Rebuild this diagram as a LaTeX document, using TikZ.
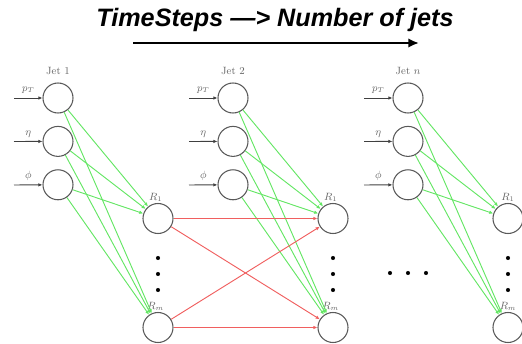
\documentclass[tikz,border=0pt]{standalone}
\usepackage{fontspec}
\usepackage{tikz}
\usetikzlibrary{arrows.meta, positioning}
\newfontfamily\headfont{Liberation Sans}
\definecolor{linkgreen}{RGB}{100,230,100}
\definecolor{linkred}{RGB}{240,95,95}

\begin{document}
\begin{tikzpicture}[x=0.03cm, y=-0.03cm, node distance=0.37cm,
        neuron/.style={circle, draw=black!65, line width=0.9pt, minimum size=0.9cm, inner sep=0pt},
        jetlabel/.style={font=\small, text=black!60},
        feed/.style={-{Latex[length=3.5pt,width=3pt]}, line width=0.8pt, draw=black!75},
        fwd/.style={-{Latex[length=3.5pt,width=3pt]}, line width=0.8pt, draw=linkgreen},
        rec/.style={-{Latex[length=3.5pt,width=3pt]}, line width=0.8pt, draw=linkred},
        dotnode/.style={circle, fill=black, inner sep=0pt, minimum size=3.5pt}]
    \useasboundingbox (0,0) rectangle (522,344);

    % heading
    \node (title) at (275,20) {\headfont\bfseries\itshape\fontsize{21.5}{26}\selectfont TimeSteps —> Number of jets};
    \coordinate (tstart) at (133,43);
    \coordinate (tend) at (419,43);
    \draw[line width=1.8pt, -{Latex[length=9pt,width=8pt]}] (tstart) -- (tend);

    % jet 1
    \node (pt1) [neuron] at (58,98) {};
    \node (eta1) [neuron, below=of pt1] {};
    \node (phi1) [neuron, below=of eta1] {};
    \node (jet1) [jetlabel, above=0.12cm of pt1] {Jet 1};
    \node (ra1) [neuron, label={[jetlabel, xshift=-2pt, inner sep=1pt]above:$R_1$}] at (158,218.5) {};
    \node (rb1) [neuron, label={[jetlabel, xshift=-2pt, inner sep=1pt]above:$R_m$}] at (158,327.5) {};
    \coordinate (ptin1) at (14,98);
    \coordinate (etain1) at (14,141.5);
    \coordinate (phiin1) at (14,185);

    % jet 2
    \node (pt2) [neuron] at (233,98) {};
    \node (eta2) [neuron, below=of pt2] {};
    \node (phi2) [neuron, below=of eta2] {};
    \node (jet2) [jetlabel, above=0.12cm of pt2] {Jet 2};
    \node (ra2) [neuron, label={[jetlabel, xshift=-2pt, inner sep=1pt]above:$R_1$}] at (333,218.5) {};
    \node (rb2) [neuron, label={[jetlabel, xshift=-2pt, inner sep=1pt]above:$R_m$}] at (333,327.5) {};
    \coordinate (ptin2) at (189,98);
    \coordinate (etain2) at (189,141.5);
    \coordinate (phiin2) at (189,185);

    % jet n
    \node (ptn) [neuron] at (408,98) {};
    \node (etan) [neuron, below=of ptn] {};
    \node (phin) [neuron, below=of etan] {};
    \node (jetn) [jetlabel, above=0.12cm of ptn] {Jet $n$};
    \node (ran) [neuron, label={[jetlabel, inner sep=1pt]above:$R_1$}] at (508,218.5) {};
    \node (rbn) [neuron, label={[jetlabel, inner sep=1pt]above:$R_m$}] at (508,327.5) {};
    \coordinate (ptinn) at (364,98);
    \coordinate (etainn) at (364,141.5);
    \coordinate (phiinn) at (364,185);

    % inputs
    \draw[feed] (ptin1) -- node[jetlabel, above] {$p_T$} (pt1);
    \draw[feed] (etain1) -- node[jetlabel, above] {$\eta$} (eta1);
    \draw[feed] (phiin1) -- node[jetlabel, above] {$\phi$} (phi1);
    \draw[feed] (ptin2) -- node[jetlabel, above] {$p_T$} (pt2);
    \draw[feed] (etain2) -- node[jetlabel, above] {$\eta$} (eta2);
    \draw[feed] (phiin2) -- node[jetlabel, above] {$\phi$} (phi2);
    \draw[feed] (ptinn) -- node[jetlabel, above] {$p_T$} (ptn);
    \draw[feed] (etainn) -- node[jetlabel, above] {$\eta$} (etan);
    \draw[feed] (phiinn) -- node[jetlabel, above] {$\phi$} (phin);

    % features to hidden units
    \draw[fwd] (pt1) -- (ra1);
    \draw[fwd] (pt1) -- (rb1);
    \draw[fwd] (eta1) -- (ra1);
    \draw[fwd] (eta1) -- (rb1);
    \draw[fwd] (phi1) -- (ra1);
    \draw[fwd] (phi1) -- (rb1);
    \draw[fwd] (pt2) -- (ra2);
    \draw[fwd] (pt2) -- (rb2);
    \draw[fwd] (eta2) -- (ra2);
    \draw[fwd] (eta2) -- (rb2);
    \draw[fwd] (phi2) -- (ra2);
    \draw[fwd] (phi2) -- (rb2);
    \draw[fwd] (ptn) -- (ran);
    \draw[fwd] (ptn) -- (rbn);
    \draw[fwd] (etan) -- (ran);
    \draw[fwd] (etan) -- (rbn);
    \draw[fwd] (phin) -- (ran);
    \draw[fwd] (phin) -- (rbn);

    % recurrent links
    \draw[rec] (ra1) -- (ra2);
    \draw[rec] (ra1) -- (rb2);
    \draw[rec] (rb1) -- (ra2);
    \draw[rec] (rb1) -- (rb2);

    % dots
    \node (d1a) [dotnode] at (158,258) {};
    \node (d1b) [dotnode] at (158,274) {};
    \node (d1c) [dotnode] at (158,290) {};
    \node (d2a) [dotnode] at (333,258) {};
    \node (d2b) [dotnode] at (333,274) {};
    \node (d2c) [dotnode] at (333,290) {};
    \node (dna) [dotnode] at (508,258) {};
    \node (dnb) [dotnode] at (508,274) {};
    \node (dnc) [dotnode] at (508,290) {};
    \node (h1) [dotnode] at (390,273) {};
    \node (h2) [dotnode] at (408,273) {};
    \node (h3) [dotnode] at (426,273) {};
\end{tikzpicture}
\end{document}
